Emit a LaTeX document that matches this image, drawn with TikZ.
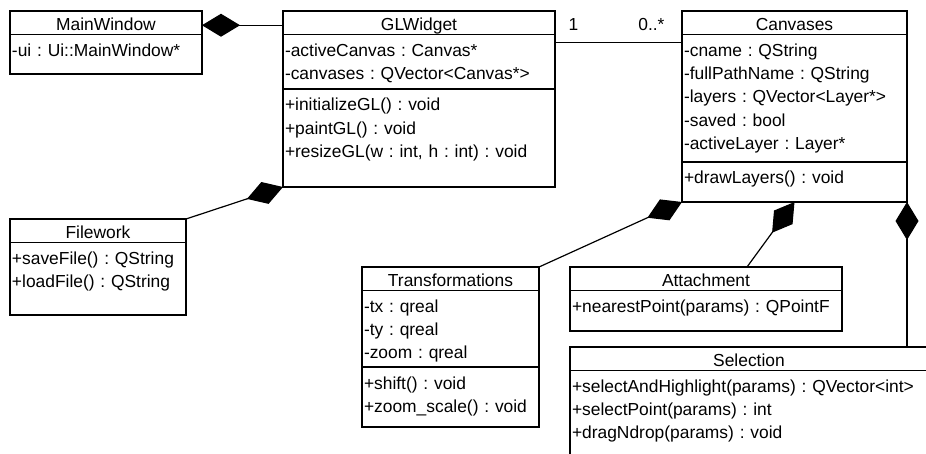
\documentclass[tikz,border=0pt]{standalone}
\usepackage{fontspec}
\setmainfont{Liberation Sans}
\usetikzlibrary{positioning, calc, arrows.meta}
\frenchspacing

\begin{document}
\begin{tikzpicture}[x=1pt, y=-1pt,
    font=\fontsize{17.4pt}{23.2pt}\selectfont,
    classtitle/.style={rectangle, 
      draw, 
      line width=1.2pt, 
      outer sep=0pt, 
      inner xsep=2pt, 
      inner ysep=0pt, 
      text width=#1, 
      align=center, 
      text height=19.5pt, 
      text depth=4pt},
    classpart/.style 2 args={rectangle, 
      draw, 
      line width=1.2pt, 
      outer sep=0pt, 
      inner xsep=2pt, 
      inner ysep=0pt, 
      text width=#1, 
      align=left, 
      text height=22pt, 
      text depth=#2},
    composition/.style={{Diamond[length=38pt, width=23pt]}-, line width=1.2pt}]

  \useasboundingbox (0,0) rectangle (926,454);
  \clip (0,0) rectangle (926,454);


  \node [classtitle=188pt, anchor=north west] (mainwindowtitle) at (10,11) {MainWindow};

  \node [classpart={188pt}{17.5pt}, 
    below=0pt of mainwindowtitle.south west, 
    anchor=north west] (mainwindowattr) {-ui : Ui::MainWindow*};


  \node [classtitle=268pt, anchor=north west] (glwidgettitle) at (283,11) {GLWidget};

  \node [classpart={268pt}{32.5pt}, 
    below=0pt of glwidgettitle.south west, 
    anchor=north west] (glwidgetattr) {
    -activeCanvas : Canvas*\\
    -canvases : QVector<Canvas*>
  };

  \node [classpart={268pt}{76pt}, 
    below=0pt of glwidgetattr.south west, 
    anchor=north west] (glwidgetops) {
    +initializeGL() : void\\
    +paintGL() : void\\
    +resizeGL(w : int, h : int) : void
  };


  \node [classtitle=221pt, anchor=north west] (canvasestitle) at (682,11) {Canvases};

  \node [classpart={221pt}{105.5pt}, 
    below=0pt of canvasestitle.south west, 
    anchor=north west] (canvasesattr) {
    -cname : QString\\
    -fullPathName : QString\\
    -layers : QVector<Layer*>\\
    -saved : bool\\
    -activeLayer : Layer*
  };

  \node [classpart={221pt}{18pt}, 
    below=0pt of canvasesattr.south west, 
    anchor=north west] (canvasesops) {+drawLayers() : void};


  \node [classtitle=172pt, anchor=north west] (fileworktitle) at (10,219) {Filework};

  \node [classpart={172pt}{50.5pt}, 
    below=0pt of fileworktitle.south west, 
    anchor=north west] (fileworkops) {
    +saveFile() : QString\\
    +loadFile() : QString
  };


  \node [classtitle=173pt, anchor=north west] (transformationstitle) at (362,267) {Transformations};

  \node [classpart={173pt}{54.5pt}, 
    below=0pt of transformationstitle.south west, 
    anchor=north west] (transformationsattr) {
    -tx : qreal\\
    -ty : qreal\\
    -zoom : qreal
  };

  \node [classpart={173pt}{38pt}, 
    below=0pt of transformationsattr.south west, 
    anchor=north west] (transformationsops) {
    +shift() : void\\
    +zoom\_scale() : void
  };


  \node [classtitle=268pt, anchor=north west] (attachmenttitle) at (570,267) {Attachment};

  \node [classpart={268pt}{18.5pt}, 
    below=0pt of attachmenttitle.south west, 
    anchor=north west] (attachmentops) {+nearestPoint(params) : QPointF};


  \node [classtitle=354pt, anchor=north west] (selectiontitle) at (570,347) {Selection};

  \node [classpart={354pt}{79.5pt}, 
    below=0pt of selectiontitle.south west, 
    anchor=north west] (selectionops) {
    +selectAndHighlight(params) : QVector<int>\\
    +selectPoint(params) : int\\
    +dragNdrop(params) : void
  };


  \draw [composition] ([yshift=-2.5pt]mainwindowtitle.east) -- ([yshift=-2.5pt]glwidgettitle.west);

  \coordinate (assocstart) at ($(glwidgetattr.north east)+(0,8)$);
  \draw [line width=1.2pt] (assocstart) -- (assocstart -| canvasesattr.west);
  \node [anchor=base west] (glwidgetmult) at ($(assocstart)+(10,-12)$) {1};
  \node [anchor=base east] (canvasesmult) at ($(assocstart -| canvasesattr.west)+(-14,-12)$) {0..*};

  \draw [composition] (glwidgetops.south west) -- (fileworktitle.north east);

  \draw [composition] (canvasesops.south west) -- (transformationstitle.north east);

  \draw [composition] (canvasesops.south) -- ([xshift=41pt]attachmenttitle.north);

  \draw [composition] (canvasesops.south east) -- (canvasesops.south east |- selectiontitle.north);

\end{tikzpicture}
\end{document}
